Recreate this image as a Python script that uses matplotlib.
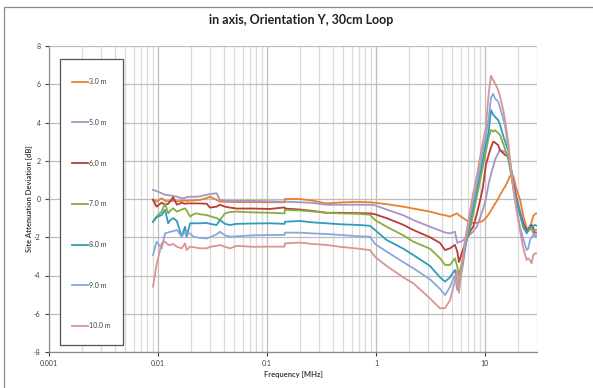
import matplotlib
matplotlib.use("Agg")
import matplotlib.pyplot as plt
from matplotlib.patches import Rectangle
from matplotlib.ticker import FixedLocator, NullFormatter, FixedFormatter

plt.rcParams['font.family'] = ['Lato', 'DejaVu Sans']

freq_mhz = [0.009, 0.0097, 0.0108, 0.0116, 0.0124, 0.013, 0.0138, 0.0149, 0.0165, 0.0177,
            0.0183, 0.0197, 0.0211, 0.0226, 0.0243, 0.028, 0.030, 0.0345, 0.037, 0.0412,
            0.0458, 0.0527, 0.075, 0.107, 0.145, 0.146, 0.2, 0.26, 0.35, 0.47,
            0.7, 0.88, 0.98, 1.25, 1.78, 2.2, 3.13, 3.87, 4.3, 4.77,
            5.3, 5.57, 5.77, 6.15, 6.5, 6.88, 7.3, 7.8, 8.4, 8.99,
            9.5, 10.2, 10.8, 11.35, 11.9, 12.35, 13.2, 13.7, 14.7, 15.3,
            16.4, 16.9, 18.2, 19.5, 20.9, 22.5, 24.1, 24.9, 25.9, 26.8,
            27.7, 28.8, 30.0]

d_3m = [-0.02, -0.14, 0.04, -0.1, -0.12, -0.1, -0.1, -0.12, -0.1, -0.08,
        -0.1, -0.08, -0.08, -0.06, -0.05, 0.05, 0.12, -0.05, -0.14, -0.15,
        -0.15, -0.16, -0.16, -0.17, -0.17, 0.0, 0.0, -0.08, -0.23, -0.18,
        -0.15, -0.17, -0.2, -0.27, -0.4, -0.5, -0.66, -0.8, -0.85, -0.92,
        -0.8, -0.75, -0.85, -0.95, -1.05, -1.15, -1.22, -1.25, -1.25, -1.2,
        -1.15, -1.0, -0.8, -0.6, -0.4, -0.25, 0.0, 0.2, 0.5, 0.65,
        1.0, 1.2, 1.2, 0.5, 0.0, -0.9, -1.5, -1.68, -1.5, -1.2,
        -0.9, -0.78, -0.75]

d_5m = [0.47, 0.42, 0.3, 0.22, 0.2, 0.18, 0.16, 0.12, 0.04, 0.06,
        0.1, 0.12, 0.12, 0.12, 0.14, 0.22, 0.26, 0.3, -0.05, -0.09,
        -0.1, -0.1, -0.1, -0.12, -0.14, -0.14, -0.17, -0.2, -0.3, -0.3,
        -0.3, -0.3, -0.33, -0.55, -0.85, -1.1, -1.45, -1.65, -1.75, -1.8,
        -1.71, -2.3, -2.25, -2.2, -2.1, -2.0, -1.85, -1.7, -1.45, -1.0,
        -0.6, 0.0, 0.8, 1.3, 1.7, 2.04, 2.4, 2.56, 2.5, 2.47,
        2.3, 2.0, 1.0, 0.1, -0.57, -1.2, -1.62, -1.6, -1.5, -1.55,
        -1.8, -1.97, -1.9]

d_6m = [-0.05, -0.4, -0.19, -0.3, -0.25, -0.1, 0.09, -0.3, -0.2, -0.25,
        -0.23, -0.23, -0.23, -0.23, -0.23, -0.25, -0.45, -0.4, -0.3, -0.4,
        -0.45, -0.5, -0.5, -0.52, -0.44, -0.5, -0.55, -0.62, -0.72, -0.72,
        -0.74, -0.75, -0.8, -1.0, -1.35, -1.62, -2.0, -2.3, -2.67, -2.58,
        -2.4, -2.75, -3.3, -2.8, -2.4, -2.0, -1.7, -1.45, -0.8, -0.1,
        0.5, 1.8, 2.3, 2.7, 3.0, 2.95, 2.82, 2.56, 2.4, 2.3,
        2.21, 1.8, 0.82, 0.0, -0.75, -1.3, -1.62, -1.6, -1.4, -1.36,
        -1.5, -1.8, -1.75]

d_7m = [-1.19, -0.92, -0.66, -0.23, -0.75, -0.6, -0.49, -0.66, -0.55, -0.49,
        -0.6, -0.92, -0.8, -0.75, -0.8, -0.84, -0.9, -1.0, -1.1, -0.75,
        -0.68, -0.66, -0.7, -0.72, -0.75, -0.57, -0.6, -0.65, -0.72, -0.75,
        -0.78, -0.82, -1.1, -1.45, -1.9, -2.23, -2.6, -3.1, -3.45, -3.45,
        -3.1, -3.54, -4.0, -3.3, -2.6, -2.0, -1.55, -0.78, 0.1, 0.92,
        1.6, 2.5, 3.2, 3.61, 3.52, 3.6, 3.45, 3.35, 2.9, 2.6,
        2.04, 1.6, 0.6, -0.05, -0.8, -1.53, -1.71, -1.7, -1.55, -1.6,
        -1.62, -1.62, -1.6]

d_8m = [-1.19, -0.95, -0.84, -0.57, -1.27, -1.1, -1.0, -1.15, -1.97, -1.45,
        -1.97, -1.27, -1.27, -1.27, -1.27, -1.25, -1.3, -1.36, -1.1, -1.3,
        -1.36, -1.3, -1.28, -1.27, -1.3, -1.19, -1.15, -1.22, -1.27, -1.32,
        -1.36, -1.4, -1.62, -2.14, -2.6, -2.93, -3.5, -4.1, -4.32, -4.1,
        -3.71, -4.2, -4.5, -3.7, -2.8, -1.9, -1.2, -0.4, 0.5, 1.3,
        2.04, 2.9, 3.5, 4.65, 4.4, 4.3, 4.13, 3.9, 3.3, 3.0,
        2.5, 1.9, 0.64, -0.1, -0.75, -1.4, -1.8, -1.6, -1.45, -1.45,
        -1.4, -1.36, -1.4]

d_9m = [-2.93, -2.23, -2.58, -1.8, -1.75, -1.71, -1.68, -1.62, -1.97, -1.71,
        -1.8, -1.8, -1.97, -2.0, -2.04, -2.06, -2.0, -1.85, -1.71, -1.9,
        -1.97, -1.95, -1.9, -1.88, -1.88, -1.76, -1.76, -1.8, -1.83, -1.88,
        -1.95, -1.97, -2.35, -2.75, -3.3, -3.62, -4.2, -4.7, -5.02, -4.6,
        -4.0, -4.76, -4.3, -3.6, -2.6, -1.7, -0.9, -0.1, 0.8, 1.7,
        2.5, 3.3, 4.2, 5.3, 5.5, 5.26, 5.09, 4.8, 4.2, 3.78,
        2.6, 1.9, 0.6, -0.5, -1.45, -2.1, -2.67, -2.6, -2.14, -2.0,
        -1.9, -1.8, -1.8]

d_10m = [-4.58, -3.45, -2.32, -2.23, -2.4, -2.4, -2.35, -2.5, -2.58, -2.32,
         -2.67, -2.49, -2.52, -2.55, -2.58, -2.58, -2.5, -2.45, -2.4, -2.5,
         -2.58, -2.45, -2.5, -2.49, -2.49, -2.32, -2.28, -2.35, -2.4, -2.5,
         -2.6, -2.67, -3.02, -3.5, -4.1, -4.41, -5.2, -5.72, -5.7, -5.3,
         -4.3, -3.7, -4.9, -3.5, -2.3, -1.45, -0.6, 0.3, 1.2, 2.15,
         2.9, 3.78, 5.5, 6.45, 6.2, 6.05, 5.7, 5.4, 4.65, 4.1,
         2.9, 2.2, 0.47, -0.6, -1.62, -2.6, -3.19, -3.1, -3.2, -3.36,
         -2.93, -2.84, -2.85]

series_labels = ["3.0 m", "5.0 m", "6.0 m", "7.0 m", "8.0 m", "9.0 m", "10.0 m"]
series_values = [d_3m, d_5m, d_6m, d_7m, d_8m, d_9m, d_10m]
series_colors = ["#E8802E", "#A596C6", "#B73C3B", "#88AD40", "#2F9CBB", "#88A9DA", "#D99593"]

y_ticks = [-8, -6, -4, -2, 0, 2, 4, 6, 8]
x_ticks = [0.001, 0.01, 0.1, 1, 10]
x_tick_labels = ["0.001", "0.01", "0.1", "1", "10"]

W, H = 593, 388
fig = plt.figure(figsize=(W / 100, H / 100), dpi=100)
ax = fig.add_axes([49 / W, 1 - 352 / H, (537 - 49) / W, (352 - 46) / H])

for lab, vals, col in zip(series_labels, series_values, series_colors):
    ax.plot(freq_mhz, vals, color=col, lw=1.3, label=lab, solid_joinstyle='round')

ax.set_xscale('log')
ax.set_xlim(0.001, 30)
ax.set_ylim(-8, 8)

minor = []
for dec in [0.001, 0.01, 0.1, 1, 10]:
    for m in range(2, 10):
        v = dec * m
        if v <= 30.0001:
            minor.append(v)
ax.xaxis.set_major_locator(FixedLocator(x_ticks))
ax.xaxis.set_major_formatter(FixedFormatter(x_tick_labels))
ax.xaxis.set_minor_locator(FixedLocator(minor))
ax.xaxis.set_minor_formatter(NullFormatter())
ax.set_yticks(y_ticks)
ax.set_yticklabels([str(v) for v in y_ticks])

ax.grid(True, which='major', axis='both', color='#BDBDBD', lw=0.9)
ax.grid(True, which='minor', axis='x', color='#DADADA', lw=0.9)
ax.set_axisbelow(True)

for s in ['top', 'right']:
    ax.spines[s].set_visible(False)
for s in ['left', 'bottom']:
    ax.spines[s].set_color('#8C8C8C')
    ax.spines[s].set_linewidth(0.9)

ax.tick_params(axis='both', which='major', labelsize=5, colors='#404040', length=3, width=0.8, direction='out', pad=3)
ax.tick_params(axis='x', which='minor', length=0)
for t in ax.get_xticklabels() + ax.get_yticklabels():
    t.set_color('#404040')

ax.set_xlabel("Frequency [MHz]", fontsize=5.5, fontweight='bold', color='#404040', labelpad=3)
ax.set_ylabel("Site Attenuation Deviation [dB]", fontsize=5.5, fontweight='bold', color='#404040', labelpad=1)

fig.text(301 / W, 1 - 20 / H, "in axis, Orientation Y, 30cm Loop", ha='center', va='center',
         fontsize=9, fontweight='bold', color='#222222')

# legend frame box (pixel layout of the reference)
ax_w, ax_h = 537 - 49, 352 - 46
ax.add_patch(Rectangle(((60 - 49) / ax_w, (352 - 345) / ax_h), (123 - 60) / ax_w, (345 - 59) / ax_h,
                       transform=ax.transAxes, facecolor='white', edgecolor='#555555', lw=0.9,
                       zorder=4))
leg = ax.legend(loc='upper left', bbox_to_anchor=((72 - 49) / ax_w, (352 - 78) / ax_h),
                fontsize=5, frameon=False, labelspacing=4.86,
                handlelength=2.3, handletextpad=0.1, borderpad=0, borderaxespad=0)
leg.set_zorder(5)
for t in leg.get_texts():
    t.set_color('#404040')

fig.patches.append(Rectangle((4 / W, -0.1), 1.2, 1 - 7 / H + 0.1,
                             transform=fig.transFigure, fill=False, edgecolor='#8C8C8C', lw=0.9))

fig.savefig("out.png", dpi=100)
